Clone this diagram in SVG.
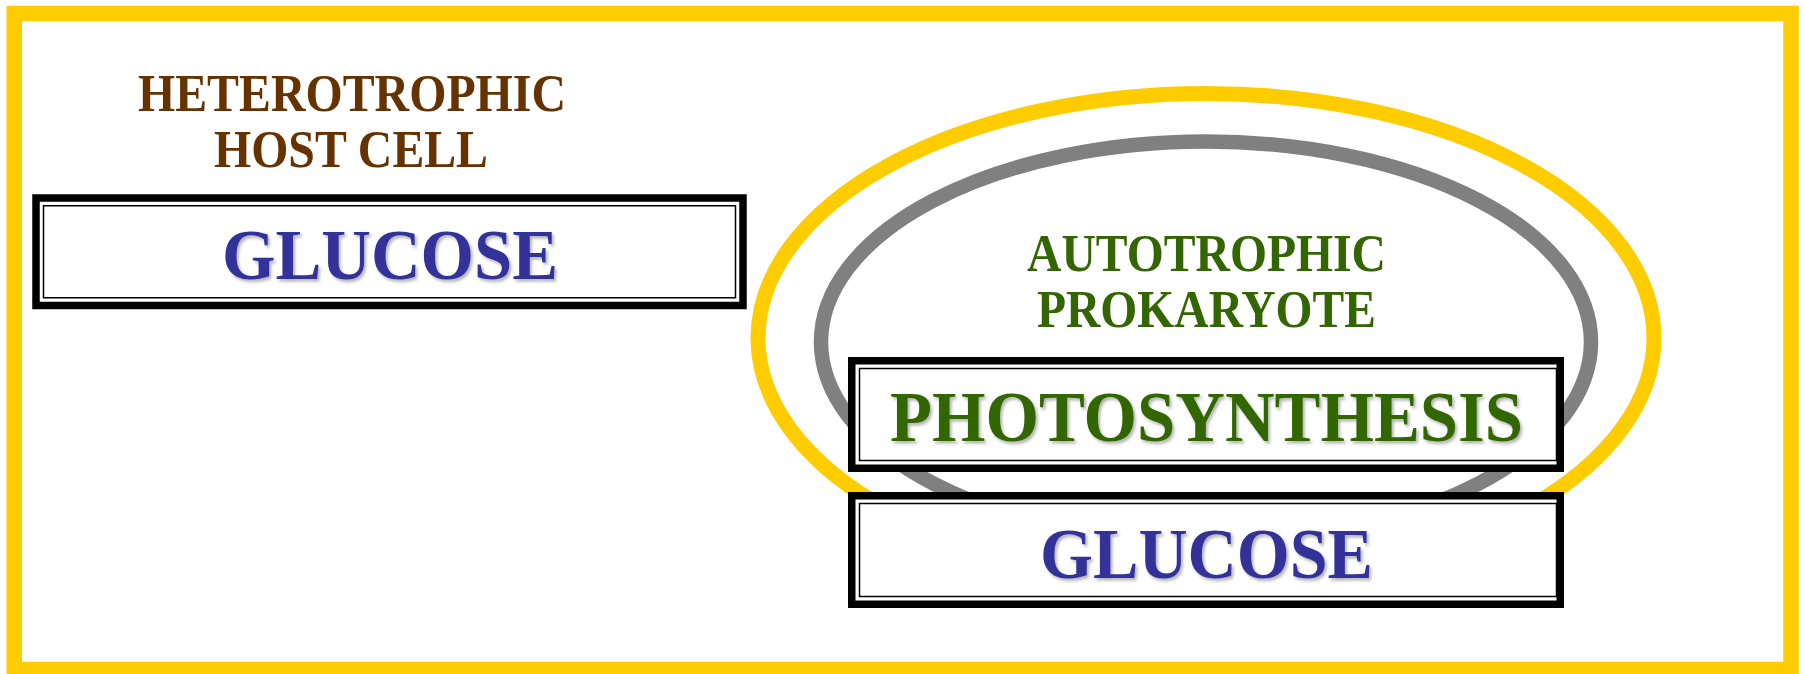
<svg xmlns="http://www.w3.org/2000/svg" width="1805" height="674" viewBox="0 0 1805 674">
  <defs>
    <style>
      .frame { fill: none; stroke: #FFCC00; stroke-width: 15.5; }
      .outer-membrane { fill: none; stroke: #FFCC00; stroke-width: 15; }
      .inner-membrane { fill: none; stroke: #808080; stroke-width: 14.5; }
      .box-thick { fill: #FFFFFF; stroke: #000000; stroke-width: 7.5; }
      .box-thin { fill: none; stroke: #000000; stroke-width: 1.5; }
      .label { font-family: "Liberation Serif", "Times New Roman", serif; font-weight: bold; text-anchor: middle; }
      .small { font-size: 52px; }
      .big { font-size: 72px; }
      .brown { fill: #663300; }
      .green { fill: #336600; }
      .blue { fill: #333399; }
    </style>
    <filter id="shadow" x="-5%" y="-20%" width="110%" height="150%">
      <feDropShadow dx="2" dy="2.5" stdDeviation="1.5" flood-color="#000000" flood-opacity="0.3"/>
    </filter>
  </defs>
  <rect x="0" y="0" width="1805" height="674" fill="#FFFFFF"/>
  <rect class="frame" x="14.25" y="13.5" width="1776.75" height="656"/>

  <g id="heterotrophic-host-cell">
    <text class="label small brown" x="352" y="111" textLength="428" lengthAdjust="spacingAndGlyphs">HETEROTROPHIC</text>
    <text class="label small brown" x="351" y="167" textLength="274" lengthAdjust="spacingAndGlyphs">HOST CELL</text>
  </g>

  <g id="host-glucose">
    <rect class="box-thick" x="36" y="198" width="707" height="107.5"/>
    <rect class="box-thin" x="43.5" y="205.75" width="692" height="92"/>
    <text class="label big blue" x="390" y="278.5" textLength="336" lengthAdjust="spacingAndGlyphs" filter="url(#shadow)">GLUCOSE</text>
  </g>

  <g id="autotrophic-prokaryote">
    <ellipse class="outer-membrane" cx="1206" cy="338" rx="448" ry="244.5"/>
    <ellipse class="inner-membrane" cx="1206" cy="342" rx="385" ry="200.5"/>
    <text class="label small green" x="1206.5" y="270.5" textLength="359" lengthAdjust="spacingAndGlyphs">AUTOTROPHIC</text>
    <text class="label small green" x="1206.5" y="327" textLength="339" lengthAdjust="spacingAndGlyphs">PROKARYOTE</text>
  </g>

  <g id="photosynthesis">
    <rect class="box-thick" x="851.75" y="360.75" width="708.5" height="107.5"/>
    <rect class="box-thin" x="859.5" y="368.5" width="697" height="92"/>
    <text class="label big green" x="1206.5" y="440.5" textLength="633" lengthAdjust="spacingAndGlyphs" filter="url(#shadow)">PHOTOSYNTHESIS</text>
  </g>

  <g id="prokaryote-glucose">
    <rect class="box-thick" x="851.75" y="495.75" width="708.5" height="108.5"/>
    <rect class="box-thin" x="859.5" y="503.5" width="697" height="93"/>
    <text class="label big blue" x="1206.5" y="578" textLength="333" lengthAdjust="spacingAndGlyphs" filter="url(#shadow)">GLUCOSE</text>
  </g>

  <g id="connectors"/>
</svg>
